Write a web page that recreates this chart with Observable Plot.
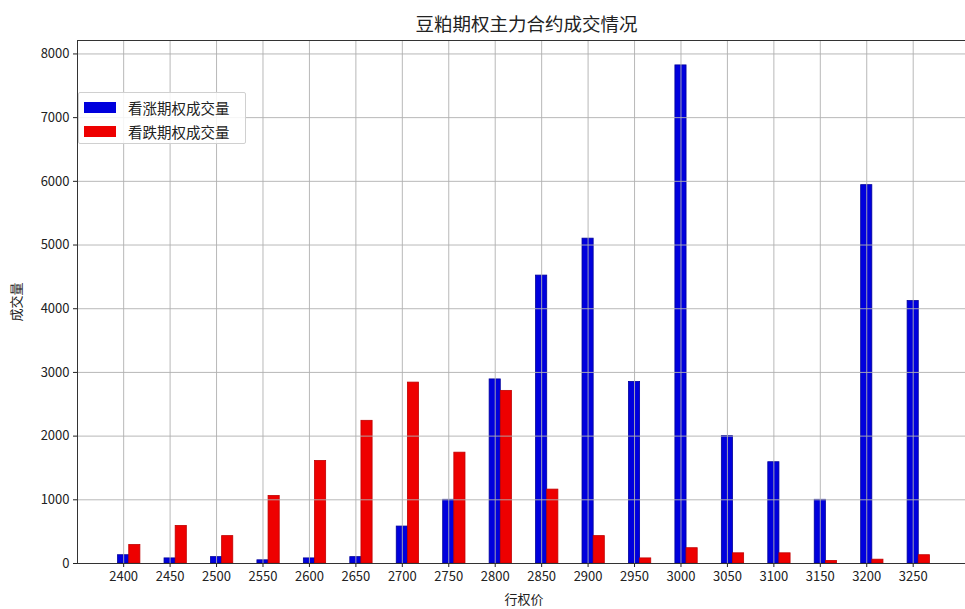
<!DOCTYPE html>
<html>
<head>
<meta charset="utf-8">
<script src="https://cdn.jsdelivr.net/npm/d3@7"></script>
<script src="https://cdn.jsdelivr.net/npm/@observablehq/plot@0.6"></script>
<style>
  html, body { margin: 0; padding: 0; background: #fff; overflow: hidden; }
  body { width: 965px; height: 609px; position: relative; font-family: "Noto Sans CJK SC", sans-serif; }
  #title { height: 34px; line-height: 34px; padding-top: 6px; box-sizing: border-box; text-align: center; font-size: 18.5px; color: #222; padding-left: 88px; }
  #legend { position: absolute; left: 78px; top: 92px; width: 168px; height: 52px; border: 1px solid #d0d0d0; border-radius: 2px; background: rgba(255,255,255,0.85); box-sizing: border-box; font-size: 14.5px; color: #222; }
  .item { position: absolute; left: 5px; height: 16px; display: flex; align-items: center; }
  .sw { width: 32px; height: 11px; margin-right: 12px; }
</style>
</head>
<body>
<div id="title"></div>
<div id="chart"></div>
<div id="legend"></div>
<script>
const titleText = "豆粕期权主力合约成交情况";
const xLabel = "行权价";
const yLabel = "成交量";
const seriesNames = ["看涨期权成交量", "看跌期权成交量"];
const seriesColors = ["#0000dd", "#ee0000"];

const strikes = [2400, 2450, 2500, 2550, 2600, 2650, 2700, 2750, 2800, 2850, 2900, 2950, 3000, 3050, 3100, 3150, 3200, 3250];
const callVolume = [130, 80, 100, 50, 80, 100, 580, 1000, 2890, 4520, 5100, 2850, 7820, 2000, 1590, 1000, 5940, 4120];
const putVolume = [290, 590, 430, 1060, 1610, 2240, 2840, 1740, 2710, 1160, 430, 80, 240, 160, 160, 40, 60, 130];
const yTicks = [0, 1000, 2000, 3000, 4000, 5000, 6000, 7000, 8000];

const W = 12; // bar width in strike units
const rows = strikes.map((s, i) => ({strike: s, call: callVolume[i], put: putVolume[i]}));

const xlo = d3.min(strikes) - W / 2, xhi = d3.max(strikes) + 1.5 * W;
const pad = 0.05 * (xhi - xlo);
const ymax = d3.max([...callVolume, ...putVolume]) * 1.05;

document.getElementById("title").textContent = titleText;

const chart = Plot.plot({
  width: 965,
  height: 575,
  marginTop: 6,
  marginBottom: 46,
  marginLeft: 77,
  marginRight: -5,
  style: {fontFamily: "'Noto Sans CJK SC', sans-serif", fontSize: "13px", color: "#222", background: "white", overflow: "visible"},
  x: {domain: [xlo - pad, xhi + pad]},
  y: {domain: [0, ymax]},
  marks: [
    Plot.rectY(rows, {x1: d => d.strike - W / 2, x2: d => d.strike + W / 2, y: "call", fill: seriesColors[0], stroke: "#00009a", strokeWidth: 0.8}),
    Plot.rectY(rows, {x1: d => d.strike + W / 2, x2: d => d.strike + 1.5 * W, y: "put", fill: seriesColors[1], stroke: "#c00000", strokeWidth: 0.8}),
    Plot.gridX(strikes, {stroke: "#b0b0b0", strokeOpacity: 1, strokeWidth: 0.9}),
    Plot.gridY(yTicks, {stroke: "#b0b0b0", strokeOpacity: 1, strokeWidth: 0.9}),
    Plot.axisX(strikes, {tickFormat: d => String(d), tickSize: 4, tickPadding: 4, label: xLabel, labelAnchor: "center", labelOffset: 40, labelArrow: "none", fontSize: 13}),
    Plot.axisY(yTicks, {tickFormat: d => String(d), tickSize: 4, tickPadding: 4, label: yLabel, labelAnchor: "center", labelOffset: 66, labelArrow: "none", fontSize: 13}),
    Plot.frame({stroke: "#333", strokeWidth: 1})
  ]
});
document.getElementById("chart").appendChild(chart);

const legend = document.getElementById("legend");
seriesNames.forEach((name, i) => {
  const item = document.createElement("div");
  item.className = "item";
  item.style.top = (6 + i * 24) + "px";
  const sw = document.createElement("div");
  sw.className = "sw";
  sw.style.background = seriesColors[i];
  const t = document.createElement("span");
  t.textContent = name;
  item.appendChild(sw);
  item.appendChild(t);
  legend.appendChild(item);
});
</script>
</body>
</html>
